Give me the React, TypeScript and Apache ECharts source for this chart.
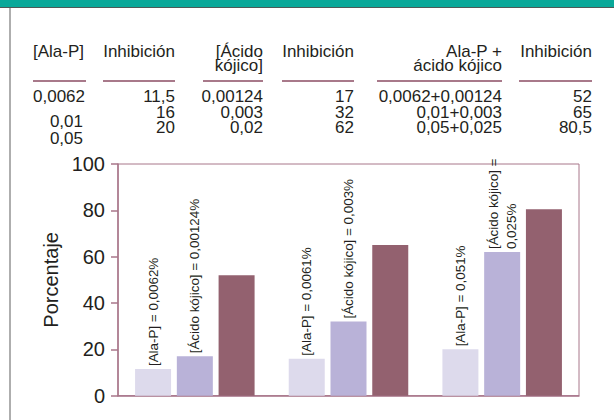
import React, { useEffect, useRef } from "react";
import * as echarts from "echarts";

// ---- data ----
const groups = ["1", "2", "3"];
const alaPConc = ["0,0062", "0,01", "0,05"];
const alaPInhib = [11.5, 16, 20];
const kojicConc = ["0,00124", "0,003", "0,02"];
const kojicInhib = [17, 32, 62];
const comboConc = ["0,0062+0,00124", "0,01+0,003", "0,05+0,025"];
const comboInhib = [52, 65, 80.5];
const alaPBarLabels = ["[Ala-P] = 0,0062%", "[Ala-P] = 0,0061%", "[Ala-P] = 0,051%"];
const kojicBarLabels = ["[Ácido kójico] = 0,00124%", "[Ácido kójico] = 0,003%", "[Ácido kójico] =\n0,025%"];
const headers = [
  ["[Ala-P]"],
  ["Inhibición"],
  ["[Ácido", "kójico]"],
  ["Inhibición"],
  ["Ala-P +", "ácido kójico"],
  ["Inhibición"],
];
const yTicks = { min: 0, max: 100, interval: 20 };

// ---- styles / layout ----
const TEXT = "#231f20";
const MAUVE = "#a8768a";
const RULE = "#a8798a";
const TABLE_FONT = "'Liberation Sans', Arial, sans-serif";
const LABEL_FONT = "'Liberation Sans', Arial, sans-serif";

const fmt = (v: number) => String(v).replace(".", ",");

// column layout: [underline start, underline end, text anchor, align]
const cols: [number, number, number, "left" | "right"][] = [
  [33, 86, 33, "left"],
  [103, 175, 175, "right"],
  [203, 263, 263, "right"],
  [282, 354, 354, "right"],
  [377, 502, 502, "right"],
  [519, 592, 592, "right"],
];
const headerY = [51.5, 65.5];
const ruleY = 81;
const rowY = [96.5, 112, 127];
const col1RowY = [96.5, 121.5, 138.5];
const col1RowX = [33, 83, 83];

function buildTable() {
  const els: any[] = [];
  const txt = (text: string, x: number, y: number, align: string) => ({
    type: "text",
    x,
    y,
    silent: true,
    style: {
      text,
      fontSize: 17,
      lineHeight: 14,
      fontFamily: TABLE_FONT,
      fill: TEXT,
      align,
      verticalAlign: "middle",
    },
  });
  headers.forEach((lines, ci) => {
    const [, , ax, al] = cols[ci];
    lines.forEach((l, li) => els.push(txt(l, ax, headerY[li], al)));
  });
  cols.forEach(([x1, x2]) =>
    els.push({
      type: "line",
      silent: true,
      shape: { x1, y1: ruleY, x2, y2: ruleY },
      style: { stroke: RULE, lineWidth: 2 },
    })
  );
  const colsVals: string[][] = [
    alaPConc,
    alaPInhib.map(fmt),
    kojicConc,
    kojicInhib.map(fmt),
    comboConc,
    comboInhib.map(fmt),
  ];
  colsVals.forEach((vals, ci) => {
    vals.forEach((v, ri) => {
      if (ci === 0) {
        els.push(txt(v, col1RowX[ri], col1RowY[ri], ri === 0 ? "left" : "right"));
      } else {
        els.push(txt(v, cols[ci][2], rowY[ri], "right"));
      }
    });
  });
  return els;
}

export default function App() {
  const ref = useRef<HTMLDivElement>(null);
  useEffect(() => {
    if (!ref.current) return;
    const chart = echarts.init(ref.current, undefined, { renderer: "svg" });
    const barLabel = (texts: string[]) => ({
      show: true,
      position: "top",
      distance: 3,
      rotate: 90,
      align: "left",
      verticalAlign: "middle",
      fontSize: 13.4,
      lineHeight: 18,
      fontFamily: LABEL_FONT,
      color: TEXT,
      formatter: (p: any) => texts[p.dataIndex],
    });
    chart.setOption({
      animation: false,
      backgroundColor: "#ffffff",
      grid: {
        left: 118,
        right: 35,
        top: 164,
        bottom: 24.3,
        show: true,
        borderColor: MAUVE,
        borderWidth: 1,
        backgroundColor: "transparent",
      },
      xAxis: {
        type: "category",
        data: groups,
        axisLabel: { show: false },
        axisTick: { show: false },
        axisLine: { show: true, lineStyle: { color: MAUVE, width: 1.5 } },
      },
      yAxis: {
        type: "value",
        min: yTicks.min,
        max: yTicks.max,
        interval: yTicks.interval,
        name: "Porcentaje",
        nameLocation: "middle",
        nameGap: 50,
        nameTextStyle: { fontSize: 20, fontFamily: TABLE_FONT, color: TEXT },
        axisLine: { show: true, lineStyle: { color: MAUVE, width: 1.5 } },
        axisTick: { show: true, length: 7, lineStyle: { color: MAUVE, width: 1.5 } },
        axisLabel: { fontSize: 20, fontFamily: TABLE_FONT, color: TEXT, margin: 13 },
        splitLine: { show: false },
      },
      series: [
        {
          type: "bar",
          data: alaPInhib,
          barWidth: 36,
          barGap: "16%",
          itemStyle: { color: "#dddaec" },
          label: barLabel(alaPBarLabels),
        },
        {
          type: "bar",
          data: kojicInhib,
          barWidth: 36,
          barGap: "16%",
          itemStyle: { color: "#b9b2d8" },
          label: barLabel(kojicBarLabels),
        },
        {
          type: "bar",
          data: comboInhib,
          barWidth: 36,
          barGap: "16%",
          itemStyle: { color: "#93616f" },
        },
      ],
      graphic: [
        {
          type: "rect",
          silent: true,
          shape: { x: 0, y: 0, width: 614, height: 7 },
          style: { fill: "#09a899" },
        },
        {
          type: "line",
          silent: true,
          shape: { x1: 0, y1: 7.5, x2: 614, y2: 7.5 },
          style: { stroke: "#4d5a57", lineWidth: 1.2 },
        },
        {
          type: "line",
          silent: true,
          shape: { x1: 10, y1: 8, x2: 10, y2: 420 },
          style: { stroke: "#9a9a9a", lineWidth: 1.6 },
        },
        ...buildTable(),
      ],
    });
    return () => chart.dispose();
  }, []);
  return (
    <div
      ref={ref}
      style={{ position: "absolute", left: 0, top: 0, width: 614, height: 420 }}
    />
  );
}
